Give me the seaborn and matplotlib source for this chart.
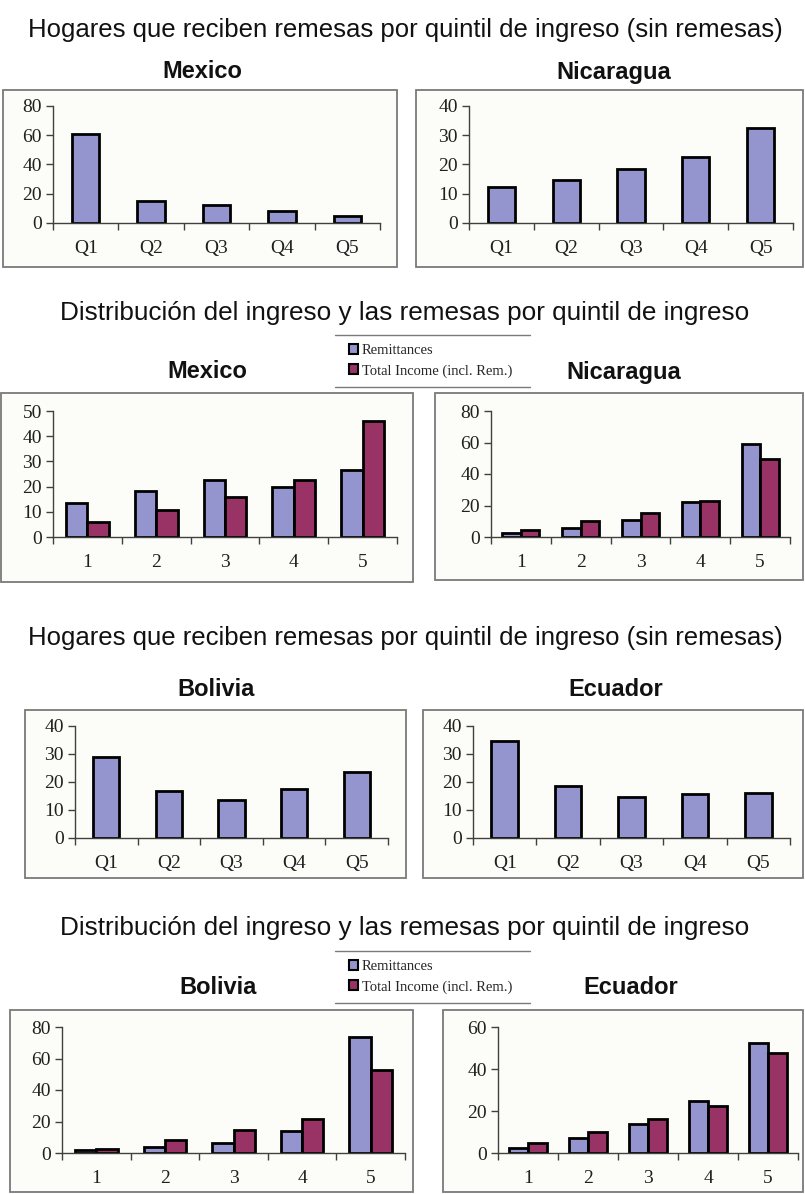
import pandas as pd
import matplotlib
matplotlib.use("Agg")
import matplotlib.pyplot as plt
import seaborn as sns
from matplotlib.patches import Rectangle
from matplotlib.lines import Line2D

# data
quintiles_q = ["Q1", "Q2", "Q3", "Q4", "Q5"]
quintiles_n = ["1", "2", "3", "4", "5"]
series = ["Remittances", "Total Income (incl. Rem.)"]

mexico_hog = [61, 15, 12.5, 8, 4.5]
nicaragua_hog = [12.3, 14.6, 18.4, 22.6, 32.6]
bolivia_hog = [28.8, 16.7, 13.6, 17.4, 23.4]
ecuador_hog = [34.6, 18.6, 14.7, 15.8, 16.2]

mexico_rem = [13.5, 18.3, 22.7, 19.8, 26.6]
mexico_tot = [5.9, 10.9, 15.7, 22.7, 46]
nicaragua_rem = [2.5, 6, 10.5, 22.4, 59]
nicaragua_tot = [4.6, 9.9, 15, 22.8, 49.4]
bolivia_rem = [1.9, 3.8, 6.1, 14.1, 73.7]
bolivia_tot = [2.5, 8.4, 14.3, 21.9, 52.4]
ecuador_rem = [2.4, 7, 14, 24.6, 52.5]
ecuador_tot = [4.6, 9.8, 16.2, 22.5, 47.5]

LAV = "#9494cf"
MAR = "#993366"
W, H = 805, 1194

sns.set_theme(style="white")
plt.rcParams["font.family"] = ["Liberation Serif", "DejaVu Serif"]

fig = plt.figure(figsize=(W / 100, H / 100), dpi=100)
fig.patch.set_facecolor("white")


def px_rect(x0, y0, x1, y1):
    return [x0 / W, 1 - y1 / H, (x1 - x0) / W, (y1 - y0) / H]


def panel_box(x0, y0, x1, y1):
    fig.add_artist(Rectangle((x0 / W, 1 - y1 / H), (x1 - x0) / W, (y1 - y0) / H,
                             transform=fig.transFigure, facecolor="#fcfcf8",
                             edgecolor="#7a7a7a", linewidth=1.3, zorder=-1))


def style_axes(ax, ymax, step):
    ax.set_facecolor("none")
    ax.set_ylim(0, ymax)
    ax.set_xlim(-0.5, 4.5)
    ax.set_yticks(range(0, ymax + 1, step))
    ax.set_xticks([x - 0.5 for x in range(6)], minor=True)
    ax.tick_params(axis="x", which="major", length=0, pad=12, labelsize=14)
    ax.tick_params(axis="x", which="minor", length=5, width=1, color="#404040", direction="out", bottom=True)
    ax.tick_params(axis="y", length=5, width=1, color="#404040", direction="out", left=True, labelsize=14, pad=3)
    for s in ["top", "right"]:
        ax.spines[s].set_visible(False)
    for s in ["left", "bottom"]:
        ax.spines[s].set_color("#404040")
        ax.spines[s].set_linewidth(1)
    ax.set_xlabel("")
    ax.set_ylabel("")
    for lab in ax.get_xticklabels() + ax.get_yticklabels():
        lab.set_color("#202020")


def single(rect, vals, ymax, step):
    ax = fig.add_axes(px_rect(*rect))
    sns.barplot(x=quintiles_q, y=vals, color=LAV, width=0.42, edgecolor="black",
                linewidth=2, saturation=1, ax=ax)
    style_axes(ax, ymax, step)
    return ax


def grouped(rect, rem, tot, ymax, step):
    df = pd.DataFrame({
        "quintil": quintiles_n * 2,
        "valor": rem + tot,
        "serie": [series[0]] * 5 + [series[1]] * 5,
    })
    ax = fig.add_axes(px_rect(*rect))
    sns.barplot(data=df, x="quintil", y="valor", hue="serie", palette=[LAV, MAR],
                width=0.62, gap=0, edgecolor="black", linewidth=2, saturation=1,
                legend=False, ax=ax)
    style_axes(ax, ymax, step)
    return ax


def section_title(y, text, size):
    fig.text(405 / W, 1 - y / H, text, ha="center", va="center", fontsize=size,
             family=["Liberation Sans", "DejaVu Sans"], color="#111111")


def sub_title(x, y, text):
    fig.text(x / W, 1 - y / H, text, ha="center", va="center", fontsize=17,
             fontweight="bold", family=["Liberation Sans", "DejaVu Sans"], color="#111111")


def legend_block(yc):
    handles = [Rectangle((0, 0), 1, 1, facecolor=c, edgecolor="black", linewidth=1.5) for c in (LAV, MAR)]
    fig.legend(handles, series, loc="center left", bbox_to_anchor=(343 / W, 1 - yc / H),
               frameon=False, fontsize=10.5, handlelength=0.65, handleheight=0.65,
               handletextpad=0.25, labelspacing=0.45, borderaxespad=0)
    for yy in (yc - 26, yc + 26):
        fig.add_artist(Line2D([335 / W, 530 / W], [1 - yy / H, 1 - yy / H],
                              transform=fig.transFigure, color="#7a7a7a", linewidth=1))


# section 1
section_title(30, "Hogares que reciben remesas por quintil de ingreso (sin remesas)", 18.5)
sub_title(202, 72, "Mexico")
sub_title(614, 72, "Nicaragua")
panel_box(3, 90, 397, 267)
panel_box(416, 90, 803, 267)
single((53, 106, 380, 223), mexico_hog, 80, 20)
single((469, 106, 793, 223), nicaragua_hog, 40, 10)

# section 2
section_title(313, "Distribución del ingreso y las remesas por quintil de ingreso", 18.8)
legend_block(361)
sub_title(207, 372, "Mexico")
sub_title(624, 372, "Nicaragua")
panel_box(1, 393, 413, 582)
panel_box(435, 393, 803, 580)
grouped((53, 411, 397, 537), mexico_rem, mexico_tot, 50, 10)
grouped((491, 411, 790, 537), nicaragua_rem, nicaragua_tot, 80, 20)

# section 3
section_title(638, "Hogares que reciben remesas por quintil de ingreso (sin remesas)", 18.5)
sub_title(216, 690, "Bolivia")
sub_title(616, 690, "Ecuador")
panel_box(25, 710, 406, 878)
panel_box(423, 710, 803, 878)
single((75, 726, 388, 838), bolivia_hog, 40, 10)
single((473, 726, 790, 838), ecuador_hog, 40, 10)

# section 4
section_title(928, "Distribución del ingreso y las remesas por quintil de ingreso", 18.8)
legend_block(977)
sub_title(218, 988, "Bolivia")
sub_title(631, 988, "Ecuador")
panel_box(10, 1010, 413, 1192)
panel_box(443, 1010, 803, 1192)
grouped((62, 1027, 405, 1153), bolivia_rem, bolivia_tot, 80, 20)
grouped((498, 1027, 798, 1153), ecuador_rem, ecuador_tot, 60, 20)

fig.savefig("out.png", dpi=100)
